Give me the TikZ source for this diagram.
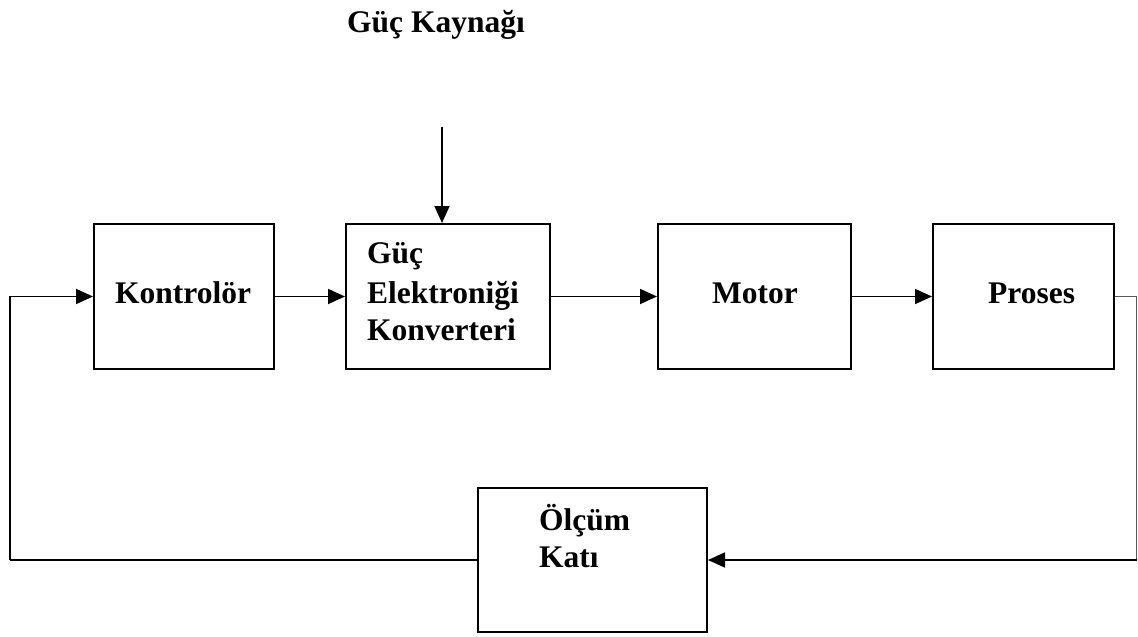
\documentclass[tikz,border=0pt]{standalone}
\usepackage{fontspec}
\setmainfont{Liberation Serif}
\usetikzlibrary{arrows.meta}
\begin{document}
\begin{tikzpicture}[x=1pt,y=-1pt,
  box/.style={draw,line width=2pt,minimum width=#1,minimum height=145pt,inner sep=0pt,anchor=center},
  lbl/.style={anchor=base west,inner sep=0pt,font=\fontsize{31.5}{38}\selectfont\bfseries,align=left},
  conn/.style={line width=1.8pt,-{Triangle[length=17pt,width=15pt]}},
  line/.style={line width=1.8pt},
  thin/.style={line width=1.2pt,black!65}]
\useasboundingbox (0,0) rectangle (1138,637);
% boxes
\node[box=180pt] (K) at (184,296.5) {};
\node[box=204pt] (G) at (448,296.5) {};
\node[box=193pt] (M) at (754.5,296.5) {};
\node[box=181pt] (P) at (1023.5,296.5) {};
\node[box=229pt,minimum height=144pt] (O) at (592.5,560) {};
% labels
\node[lbl] (tsrc) at (347,32) {Güç Kaynağı};
\node[lbl] (tK) at (115,303) {Kontrolör};
\node[lbl] (tG1) at (367,263) {Güç};
\node[lbl] (tG2) at (367,303) {Elektroniği};
\node[lbl] (tG3) at (367,340) {Konverteri};
\node[lbl] (tM) at (712,303) {Motor};
\node[lbl] (tP) at (988,303) {Proses};
\node[lbl] (tO1) at (539,530) {Ölçüm};
\node[lbl] (tO2) at (539,567) {Katı};
% connectors
\coordinate (src) at (442,127);
\draw[conn] (src) -- (src |- G.north);
\draw[conn] (K.east) -- (G.west);
\draw[conn] (G.east) -- (M.west);
\draw[conn] (M.east) -- (P.west);
\coordinate (fr) at (1136.5,560);
\draw[thin] (P.east) -| (fr);
\draw[conn] (fr) -- (O.east);
\coordinate (fl) at (10,560);
\draw[line] (O.west) -- (fl);
\draw[conn] (fl) |- (K.west);
\end{tikzpicture}
\end{document}
